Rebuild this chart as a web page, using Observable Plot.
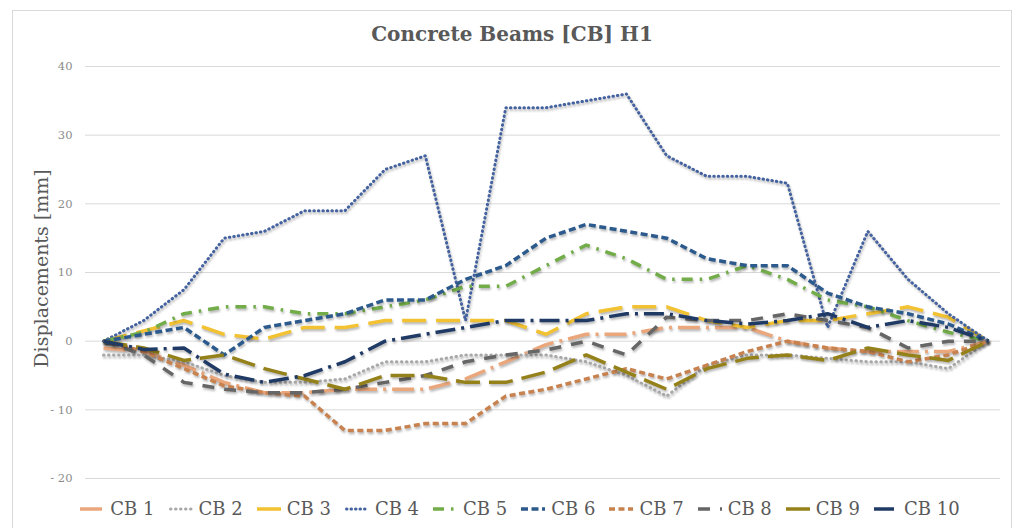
<!DOCTYPE html>
<html><head><meta charset="utf-8">
<script src="https://cdn.jsdelivr.net/npm/d3@7"></script>
<script src="https://cdn.jsdelivr.net/npm/@observablehq/plot@0.6"></script>
<style>
body{margin:0;background:#fff;font-family:"DejaVu Serif",serif;}
#wrap{position:relative;width:1019px;height:528px;overflow:hidden;}
#frame{position:absolute;left:12px;top:10px;width:1000px;height:540px;border:1px solid #d9d9d9;box-sizing:border-box;}
#title{position:absolute;left:12px;width:1000px;top:22px;text-align:center;font-size:20px;font-weight:bold;color:#595959;}
#chart{position:absolute;left:0;top:50px;}
#legend{position:absolute;left:20px;width:1000px;top:498px;display:flex;justify-content:center;align-items:center;font-size:18px;color:#595959;}
.item{display:flex;align-items:center;margin:0 7px;}
.item svg{margin-right:6px;}
#chart g[aria-label="line"] path{filter:drop-shadow(1.5px 2px 1.2px rgba(0,0,0,0.28));}
</style></head>
<body><div id="wrap"><div id="frame"></div><div id="title"></div><div id="chart"></div><div id="legend"></div></div>
<script>
const title = "Concrete Beams [CB] H1";
const yLabel = "Displacements [mm]";
const yTicks = [-20, -10, 0, 10, 20, 30, 40];
const stations = [0,1,2,3,4,5,6,7,8,9,10,11,12,13,14,15,16,17,18,19,20,21,22];
const series = ["CB 1","CB 2","CB 3","CB 4","CB 5","CB 6","CB 7","CB 8","CB 9","CB 10"];
const cb1  = [-1, -1.5, -3.5, -6, -7.5, -7.5, -7, -7, -7, -5.5, -3, -0.5, 1, 1, 2, 2, 2, 0, -1, -1.5, -1.5, -1.5, 0];
const cb2  = [-2, -2, -3, -5, -6, -6, -5.5, -3, -3, -2, -2, -2, -3, -5, -8, -3.5, -2, -2, -2.5, -3, -3, -4, 0];
const cb3  = [0, 1.5, 3, 1, 0.3, 2, 2, 3, 3, 3, 3, 1, 4, 5, 5, 3, 2, 3, 3, 4, 5, 3.5, 0];
const cb4  = [0, 3, 7.5, 15, 16, 19, 19, 25, 27, 3, 34, 34, 35, 36, 27, 24, 24, 23, 2, 16, 9, 4, 0];
const cb5  = [0, 1.3, 4, 5, 5, 4, 4, 5, 6, 8, 8, 11, 14, 12, 9, 9, 11, 9, 6, 5, 3, 1.3, 0];
const cb6  = [0, 1, 2, -2, 2, 3, 4, 6, 6, 9, 11, 15, 17, 16, 15, 12, 11, 11, 7, 5, 4, 2.5, 0];
const cb7  = [0, -1.5, -4, -6.5, -7.5, -8, -13, -13, -12, -12, -8, -7, -5.5, -4, -5.5, -3.5, -1.5, 0, -1, -1.5, -3, -2, 0];
const cb8  = [0, -2, -6, -7, -7.5, -7.5, -7, -6, -5, -3, -2, -1.3, 0, -2, 3.5, 3, 3, 4, 3, 2, -1, 0, 0];
const cb9  = [0, -1, -2.8, -2, -4, -5.5, -7, -5, -5, -6, -6, -4.5, -2, -4.5, -7, -4, -2.5, -2, -2.8, -1, -2, -2.8, 0];
const cb10 = [0, -1.2, -1, -4.8, -6, -5, -3, 0, 1, 2, 3, 3, 3, 4, 4, 3, 2.5, 3, 4, 2, 3, 2, 0];
const values = [cb1, cb2, cb3, cb4, cb5, cb6, cb7, cb8, cb9, cb10];

const styles = [
  {color:"#eba77c", dash:"22,6,3,6", w:3.5, cap:"butt"},
  {color:"#a8a8a8", dash:"0.5,4.5", w:3, cap:"round"},
  {color:"#f2c232", dash:"24,10", w:3.5, cap:"butt"},
  {color:"#44629f", dash:"0.5,4", w:3, cap:"round"},
  {color:"#72ad4a", dash:"11,7,2.5,7", w:3.5, cap:"butt"},
  {color:"#2c5a8c", dash:"7,3.5", w:3.5, cap:"butt"},
  {color:"#c8824f", dash:"6,3.5", w:3.5, cap:"butt"},
  {color:"#666666", dash:"12,10", w:3.5, cap:"butt"},
  {color:"#958119", dash:"24,9", w:3.5, cap:"butt"},
  {color:"#203a66", dash:"20,6,3,6", w:3.5, cap:"butt"}
];

const rows = [];
series.forEach((s, k) => stations.forEach((st, j) => rows.push({s, i: st, v: values[k][j]})));

document.getElementById("title").textContent = title;

const fmt = d => d < 0 ? "- " + Math.abs(d) : String(d);

const plot = Plot.plot({
  width: 1019, height: 440,
  marginLeft: 85, marginRight: 19, marginTop: 16, marginBottom: 12,
  x: {domain: [0, 22], insetLeft: 18, insetRight: 12, axis: null},
  y: {domain: [-20, 40], label: null},
  style: {fontFamily: "DejaVu Serif, serif", background: "transparent", overflow: "visible"},
  marks: [
    Plot.ruleY(yTicks, {stroke: "#d9d9d9", strokeWidth: 1}),
    Plot.axisY({ticks: yTicks, tickSize: 0, tickPadding: 13, tickFormat: fmt, fontSize: 11.5, color: "#8c8c8c", label: null}),
    Plot.text([yLabel], {text: d => d, frameAnchor: "left", textAnchor: "middle", lineAnchor: "middle", dx: -44, dy: -4, rotate: -90, fontSize: 19, fill: "#595959"}),
    ...series.map((s, k) => Plot.line(rows.filter(r => r.s === s), {
      x: "i", y: "v",
      stroke: styles[k].color, strokeWidth: styles[k].w,
      strokeDasharray: styles[k].dash, strokeLinecap: styles[k].cap, strokeLinejoin: "round"
    }))
  ]
});
document.getElementById("chart").appendChild(plot);

const legend = document.getElementById("legend");
series.forEach((s, k) => {
  const st = styles[k];
  const item = document.createElement("div");
  item.className = "item";
  item.innerHTML = `<svg width="24" height="10"><line x1="${st.cap==='round'?1.5:0}" y1="5" x2="24" y2="5" stroke="${st.color}" stroke-width="${st.w}" stroke-dasharray="${st.dash}" stroke-linecap="${st.cap}"/></svg><span>${s}</span>`;
  legend.appendChild(item);
});
</script>
</body></html>
